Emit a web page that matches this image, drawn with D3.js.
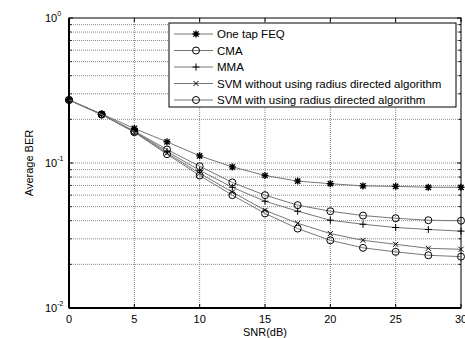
<!DOCTYPE html>
<html>
<head>
<meta charset="utf-8">
<script src="https://cdn.jsdelivr.net/npm/d3@7"></script>
<style>
  body { margin: 0; background: #fff; }
  svg { display: block; font-family: "Liberation Sans", Arial, sans-serif; }
</style>
</head>
<body>
<svg id="chart" width="465" height="338"></svg>
<script>
// SNR values (dB)
const snr = [0, 2.5, 5, 7.5, 10, 12.5, 15, 17.5, 20, 22.5, 25, 27.5, 30];
// average BER per method
const feq  = [0.272, 0.218, 0.173, 0.140, 0.112, 0.094, 0.082, 0.075, 0.072, 0.0695, 0.069, 0.068, 0.068];
const cma  = [0.272, 0.216, 0.166, 0.124, 0.095, 0.0734, 0.060, 0.0512, 0.0465, 0.0434, 0.0416, 0.0403, 0.0400];
const mma  = [0.272, 0.216, 0.165, 0.120, 0.089, 0.068, 0.0545, 0.0465, 0.0403, 0.0378, 0.0359, 0.0348, 0.0339];
const svmX = [0.272, 0.216, 0.164, 0.117, 0.085, 0.063, 0.0472, 0.0384, 0.0326, 0.0293, 0.0275, 0.0258, 0.0254];
const svmO = [0.272, 0.216, 0.163, 0.115, 0.082, 0.060, 0.0449, 0.0353, 0.0293, 0.0260, 0.0244, 0.0231, 0.0226];

const xTicks = [0, 5, 10, 15, 20, 25, 30];
const yDecades = [1, 0.1, 0.01];
const yExp = ["0", "-1", "-2"];

const seriesNames = [
  "One tap FEQ",
  "CMA",
  "MMA",
  "SVM without using radius directed algorithm",
  "SVM with using radius directed algorithm"
];
const seriesValues = [feq, cma, mma, svmX, svmO];
const seriesMarkers = ["star", "circle", "plus", "cross", "circle"];

const margin = { left: 69, top: 18, right: 4, bottom: 30 };
const W = 465, H = 338;
const svg = d3.select("#chart");

const x = d3.scaleLinear().domain([0, 30]).range([margin.left, W - margin.right]);
const y = d3.scaleLog().domain([0.01, 1]).range([H - margin.bottom, margin.top]);

// minor values per decade
const minorVals = [];
[0.01, 0.1].forEach(d => {
  for (let k = 2; k <= 9; k++) minorVals.push(d * k);
});

const grid = svg.append("g");
// horizontal grid (major + minor)
grid.selectAll("line.h")
  .data(minorVals.concat([0.1]))
  .join("line")
  .attr("x1", x(0)).attr("x2", x(30))
  .attr("y1", d => y(d)).attr("y2", d => y(d))
  .attr("stroke", "#888")
  .attr("stroke-width", 1)
  .attr("stroke-dasharray", "1,1");
// vertical grid
grid.selectAll("line.v")
  .data(xTicks.slice(1, -1))
  .join("line")
  .attr("x1", d => x(d)).attr("x2", d => x(d))
  .attr("y1", y(1)).attr("y2", y(0.01))
  .attr("stroke", "#888")
  .attr("stroke-width", 1)
  .attr("stroke-dasharray", "1,1");

// axes box
const axes = svg.append("g").attr("stroke", "#000").attr("fill", "none");
axes.append("rect")
  .attr("x", x(0)).attr("y", y(1))
  .attr("width", x(30) - x(0)).attr("height", y(0.01) - y(1))
  .attr("stroke-width", 1);
axes.append("line")
  .attr("x1", x(0)).attr("x2", x(0))
  .attr("y1", y(1)).attr("y2", y(0.01))
  .attr("stroke-width", 2);
axes.append("line")
  .attr("x1", x(0)).attr("x2", x(30))
  .attr("y1", y(0.01)).attr("y2", y(0.01))
  .attr("stroke-width", 2);

// inward ticks
const tk = axes.append("g").attr("stroke-width", 1);
xTicks.forEach(t => {
  tk.append("line").attr("x1", x(t)).attr("x2", x(t)).attr("y1", y(0.01)).attr("y2", y(0.01) - 4);
  tk.append("line").attr("x1", x(t)).attr("x2", x(t)).attr("y1", y(1)).attr("y2", y(1) + 4);
});
minorVals.concat(yDecades).forEach(v => {
  const len = yDecades.includes(v) ? 4 : 2.5;
  tk.append("line").attr("x1", x(0)).attr("x2", x(0) + len).attr("y1", y(v)).attr("y2", y(v));
  tk.append("line").attr("x1", x(30)).attr("x2", x(30) - len).attr("y1", y(v)).attr("y2", y(v));
});

// tick labels
svg.append("g").selectAll("text")
  .data(xTicks)
  .join("text")
  .attr("x", d => x(d))
  .attr("y", H - margin.bottom + 15)
  .attr("text-anchor", "middle")
  .attr("font-size", 11)
  .text(d => d);

const yl = svg.append("g").attr("font-size", 11);
yDecades.forEach((v, i) => {
  const t = yl.append("text")
    .attr("x", 45)
    .attr("y", y(v) + 4);
  t.append("tspan").text("10");
  t.append("tspan").attr("font-size", 7).attr("dy", -6).text(yExp[i]);
});

svg.append("text")
  .attr("x", (x(0) + x(30)) / 2)
  .attr("y", H - 2)
  .attr("text-anchor", "middle")
  .attr("font-size", 11)
  .text("SNR(dB)");

svg.append("text")
  .attr("transform", `translate(33,${(y(1) + y(0.01)) / 2}) rotate(-90)`)
  .attr("text-anchor", "middle")
  .attr("font-size", 11)
  .text("Average BER");

// marker drawing
function drawMarker(g, type, cx, cy) {
  const s = 3.5;
  if (type === "circle") {
    g.append("circle").attr("cx", cx).attr("cy", cy).attr("r", s)
      .attr("fill", "none").attr("stroke", "#000").attr("stroke-width", 1);
  } else {
    const p = d3.path();
    if (type === "plus" || type === "star") {
      p.moveTo(cx - s, cy); p.lineTo(cx + s, cy);
      p.moveTo(cx, cy - s); p.lineTo(cx, cy + s);
    }
    if (type === "cross" || type === "star") {
      const c = type === "star" ? s * 0.75 : 2.5;
      p.moveTo(cx - c, cy - c); p.lineTo(cx + c, cy + c);
      p.moveTo(cx - c, cy + c); p.lineTo(cx + c, cy - c);
    }
    g.append("path").attr("d", p.toString())
      .attr("fill", "none").attr("stroke", "#000")
      .attr("stroke-width", type === "star" ? 1.4 : 1);
  }
}

const line = d3.line().x(d => x(d[0])).y(d => y(d[1]));
const plot = svg.append("g");
seriesValues.forEach((vals, i) => {
  const pts = snr.map((s, j) => [s, vals[j]]);
  plot.append("path")
    .attr("d", line(pts))
    .attr("fill", "none")
    .attr("stroke", "#777")
    .attr("stroke-width", 1);
  const mg = plot.append("g");
  pts.forEach(p => drawMarker(mg, seriesMarkers[i], x(p[0]), y(p[1])));
});

// legend
const lg = svg.append("g");
lg.append("rect")
  .attr("x", 169).attr("y", 23)
  .attr("width", 287).attr("height", 84)
  .attr("fill", "#fff").attr("stroke", "#000").attr("stroke-width", 1);
seriesNames.forEach((name, i) => {
  const ly = 34 + i * 16.5;
  lg.append("line")
    .attr("x1", 174).attr("x2", 213)
    .attr("y1", ly).attr("y2", ly)
    .attr("stroke", "#777").attr("stroke-width", 1);
  drawMarker(lg, seriesMarkers[i], 196, ly);
  lg.append("text")
    .attr("x", 217).attr("y", ly + 4)
    .attr("font-size", 11.5)
    .text(name);
});
</script>
</body>
</html>
